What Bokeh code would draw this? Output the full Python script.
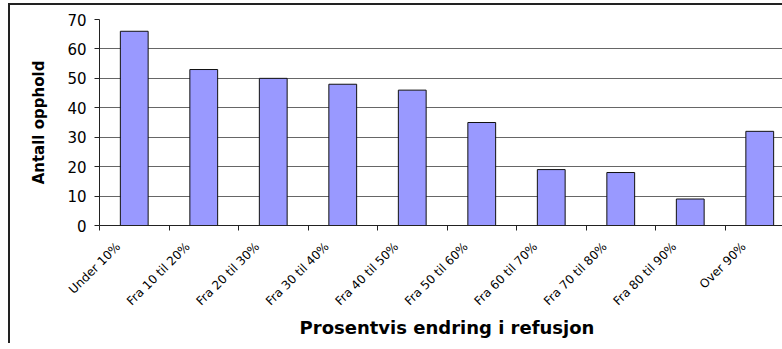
from bokeh.plotting import figure
from bokeh.models import Range1d, FixedTicker
from bokeh.embed import file_html
from bokeh.resources import INLINE

categories = ["Under 10%", "Fra 10 til 20%", "Fra 20 til 30%", "Fra 30 til 40%",
              "Fra 40 til 50%", "Fra 50 til 60%", "Fra 60 til 70%", "Fra 70 til 80%",
              "Fra 80 til 90%", "Over 90%"]
values = [66, 53, 50, 48, 46, 35, 19, 18, 9, 32]
y_ticks = [0, 10, 20, 30, 40, 50, 60, 70]

FONT = "DejaVu Sans"

centers = [i + 0.5 for i in range(len(categories))]
boundaries = list(range(len(categories)))
# label anchors sit a little left of the category centre (as in the original layout)
label_pos = [c - 0.23 for c in centers]

# the original chart is wider than the visible window; its right edge is cut off
p = figure(width=784, height=340, output_backend="svg", toolbar_location=None,
           x_range=Range1d(0, len(categories)), y_range=Range1d(0, 70),
           min_border_left=89, min_border_top=14, min_border_bottom=120, min_border_right=0,
           margin=(5, 0, 0, 10))
# outer chart-area frame (left and top edges are inside the window)
p.styles = {"box-shadow": "-2px -2px 0px 0px #222222"}

p.vbar(x=centers, top=values, width=0.4, fill_color="#9999FF", line_color="#111111", line_width=1)

p.outline_line_color = None
p.background_fill_color = "white"
p.border_fill_color = "white"

p.xgrid.visible = False
p.ygrid.grid_line_color = "#666666"
p.ygrid.grid_line_width = 1
p.ygrid.ticker = FixedTicker(ticks=y_ticks)

p.yaxis.ticker = FixedTicker(ticks=y_ticks)
p.yaxis.axis_line_color = "#222222"
p.yaxis.major_tick_line_color = "#222222"
p.yaxis.major_tick_out = 5
p.yaxis.major_tick_in = 0
p.yaxis.minor_tick_line_color = None
p.yaxis.major_label_standoff = 8
p.yaxis.major_label_text_font = FONT
p.yaxis.major_label_text_font_size = "15px"
p.yaxis.major_label_text_color = "black"
p.yaxis.axis_label = "Antall opphold"
p.yaxis.axis_label_text_font = FONT
p.yaxis.axis_label_text_font_style = "bold"
p.yaxis.axis_label_text_font_size = "15px"
p.yaxis.axis_label_text_color = "black"
p.yaxis.axis_label_standoff = 16

p.xaxis.ticker = FixedTicker(ticks=label_pos, minor_ticks=boundaries)
p.xaxis.major_label_overrides = {c: lab for c, lab in zip(label_pos, categories)}
p.xaxis.major_label_orientation = 0.785398
p.xaxis.axis_line_color = "#222222"
p.xaxis.major_tick_line_color = None
p.xaxis.major_tick_out = 5
p.xaxis.major_tick_in = 0
p.xaxis.minor_tick_line_color = "#222222"
p.xaxis.minor_tick_out = 5
p.xaxis.minor_tick_in = 0
p.xaxis.major_label_standoff = 14
p.xaxis.major_label_text_font = FONT
p.xaxis.major_label_text_font_size = "12px"
p.xaxis.major_label_text_color = "black"
p.xaxis.axis_label = "Prosentvis endring i refusjon"
p.xaxis.axis_label_text_font = FONT
p.xaxis.axis_label_text_font_style = "bold"
p.xaxis.axis_label_text_font_size = "18px"
p.xaxis.axis_label_text_color = "black"
p.xaxis.axis_label_standoff = 1

open("out.html", "w").write(file_html(p, INLINE))
